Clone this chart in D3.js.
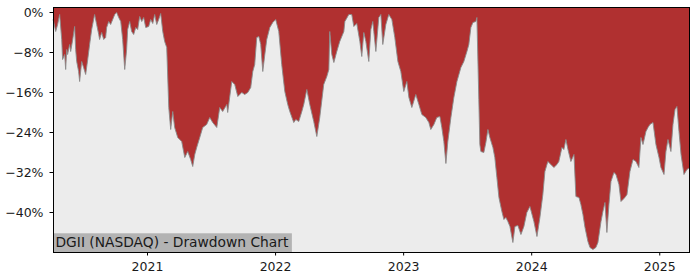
<!DOCTYPE html>
<html>
<head>
<meta charset="utf-8">
<script src="https://cdn.jsdelivr.net/npm/d3@7"></script>
<style>
  body { margin: 0; background: #fff; }
  text { font-family: "DejaVu Sans", sans-serif; }
</style>
</head>
<body>
<script>
// dates as decimal years, drawdown in percent
var years = [
  2020.266, 2020.271, 2020.287, 2020.302, 2020.318, 2020.334, 2020.341, 2020.357, 2020.365, 2020.373,
  2020.380, 2020.396, 2020.404, 2020.420, 2020.435, 2020.443, 2020.451, 2020.466, 2020.474, 2020.490,
  2020.505, 2020.521, 2020.537, 2020.552, 2020.568, 2020.591, 2020.607, 2020.623, 2020.630, 2020.646,
  2020.662, 2020.677, 2020.685, 2020.701, 2020.716, 2020.732, 2020.748, 2020.763, 2020.779, 2020.795,
  2020.810, 2020.826, 2020.841, 2020.849, 2020.865, 2020.880, 2020.896, 2020.912, 2020.927, 2020.943,
  2020.959, 2020.974, 2020.990, 2021.013, 2021.029, 2021.045, 2021.060, 2021.076, 2021.091, 2021.107,
  2021.123, 2021.138, 2021.154, 2021.170, 2021.185, 2021.201, 2021.216, 2021.240, 2021.271, 2021.295,
  2021.318, 2021.341, 2021.357, 2021.373, 2021.388, 2021.412, 2021.435, 2021.466, 2021.490, 2021.513,
  2021.545, 2021.568, 2021.591, 2021.623, 2021.630, 2021.662, 2021.685, 2021.709, 2021.740, 2021.763,
  2021.787, 2021.810, 2021.826, 2021.841, 2021.857, 2021.873, 2021.888, 2021.904, 2021.920, 2021.935,
  2021.959, 2021.982, 2022.005, 2022.029, 2022.052, 2022.076, 2022.099, 2022.115, 2022.146, 2022.162,
  2022.185, 2022.209, 2022.224, 2022.248, 2022.271, 2022.302, 2022.326, 2022.349, 2022.380, 2022.404,
  2022.420, 2022.427, 2022.443, 2022.459, 2022.482, 2022.505, 2022.537, 2022.545, 2022.576, 2022.599,
  2022.615, 2022.638, 2022.662, 2022.677, 2022.693, 2022.709, 2022.732, 2022.748, 2022.763, 2022.771,
  2022.787, 2022.810, 2022.826, 2022.841, 2022.865, 2022.888, 2022.912, 2022.935, 2022.959, 2022.982,
  2023.005, 2023.029, 2023.045, 2023.068, 2023.099, 2023.123, 2023.146, 2023.177, 2023.201, 2023.216,
  2023.240, 2023.263, 2023.287, 2023.302, 2023.318, 2023.334, 2023.349, 2023.373, 2023.396, 2023.420,
  2023.451, 2023.474, 2023.498, 2023.513, 2023.529, 2023.545, 2023.568, 2023.576, 2023.591, 2023.599,
  2023.607, 2023.630, 2023.646, 2023.662, 2023.677, 2023.701, 2023.716, 2023.732, 2023.748, 2023.771,
  2023.787, 2023.802, 2023.818, 2023.834, 2023.857, 2023.873, 2023.896, 2023.920, 2023.943, 2023.966,
  2023.990, 2024.021, 2024.045, 2024.068, 2024.091, 2024.107, 2024.130, 2024.154, 2024.177, 2024.201,
  2024.216, 2024.240, 2024.255, 2024.271, 2024.287, 2024.310, 2024.334, 2024.349, 2024.373, 2024.388,
  2024.404, 2024.420, 2024.443, 2024.459, 2024.482, 2024.505, 2024.521, 2024.545, 2024.560, 2024.576,
  2024.591, 2024.607, 2024.623, 2024.646, 2024.662, 2024.685, 2024.701, 2024.716, 2024.732, 2024.748,
  2024.771, 2024.795, 2024.818, 2024.841, 2024.857, 2024.873, 2024.896, 2024.912, 2024.927, 2024.951,
  2024.974, 2024.998, 2025.013, 2025.037, 2025.052, 2025.068, 2025.091, 2025.107, 2025.123, 2025.138,
  2025.154, 2025.170, 2025.193, 2025.216, 2025.240
];
var drawdown = [
  -1.5, -1.9, -3.9, -2.5, -0.5, -5.5, -9.5, -8.5, -11.5, -7.5,
  -8.5, -6.5, -7.9, -5.5, -2.9, -7.5, -9.9, -11.9, -13.9, -9.9,
  -11.1, -12.5, -9.5, -6.5, -3.5, -0.5, -2.5, -4.5, -5.5, -4.1,
  -5.5, -5.1, -3.1, -1.9, -2.5, -1.5, -0.5, -0.1, -1.1, -1.9,
  -5.5, -11.5, -7.5, -3.5, -1.9, -3.9, -4.5, -3.1, -3.5, -0.9,
  -1.9, -1.1, -3.1, -2.9, -1.5, -2.3, -0.5, -2.5, -1.5, -0.3,
  -3.9, -5.9, -7.1, -19.1, -23.5, -19.9, -23.1, -25.1, -25.9, -29.1,
  -27.9, -29.5, -30.9, -28.5, -27.1, -25.1, -23.1, -22.5, -21.1, -22.1,
  -23.1, -19.1, -19.9, -18.5, -20.1, -13.9, -14.5, -16.9, -16.1, -16.5,
  -16.1, -15.1, -11.9, -10.5, -5.1, -4.9, -6.5, -11.9, -8.5, -5.5,
  -3.1, -2.1, -1.5, -3.9, -10.5, -15.9, -18.5, -19.9, -22.1, -21.5,
  -21.9, -19.9, -18.5, -15.5, -18.5, -21.9, -24.9, -21.1, -14.5, -12.9,
  -11.5, -3.9, -8.5, -10.1, -7.9, -5.9, -3.9, -1.9, -0.5, -0.5,
  -2.9, -2.3, -5.9, -8.9, -4.1, -5.9, -9.9, -3.5, -1.9, -3.9,
  -7.9, -1.1, -0.5, -6.5, -2.5, -0.5, -1.5, -5.1, -9.9, -11.9,
  -15.9, -13.9, -17.1, -19.1, -16.5, -18.5, -20.5, -21.1, -22.1, -23.5,
  -22.5, -21.1, -20.9, -23.1, -25.9, -30.3, -25.9, -21.1, -17.1, -13.9,
  -11.1, -9.9, -7.9, -6.5, -3.1, -2.1, -1.9, -1.1, -17.5, -26.5,
  -27.9, -28.1, -26.1, -23.5, -25.1, -27.1, -29.1, -33.1, -37.1, -39.9,
  -41.5, -41.1, -41.9, -42.9, -46.1, -42.9, -42.7, -44.5, -42.9, -40.1,
  -38.9, -41.9, -44.9, -41.1, -36.5, -31.9, -29.9, -30.5, -31.1, -30.5,
  -29.9, -27.1, -27.5, -25.5, -27.5, -29.9, -28.5, -36.9, -37.1, -38.5,
  -40.5, -43.1, -45.9, -47.1, -47.5, -47.1, -46.1, -41.9, -39.9, -38.1,
  -44.1, -38.5, -33.9, -32.1, -32.5, -34.5, -37.9, -37.5, -37.1, -36.5,
  -31.9, -29.5, -29.9, -31.1, -25.1, -26.5, -23.9, -23.1, -22.5, -22.1,
  -26.5, -29.1, -31.1, -32.5, -27.9, -25.5, -27.9, -22.5, -19.5, -18.9,
  -23.9, -28.5, -32.5, -31.5, -31.1
];
var yearTicks = [2021, 2022, 2023, 2024, 2025];
var pctTicks = [0, -8, -16, -24, -32, -40];
var title = "DGII (NASDAQ) - Drawdown Chart";

var w = 700, h = 280;
var padL = 53, padR = 690, padT = 7, padB = 252;

var data = years.map(function(d, i) { return { t: d, v: drawdown[i] }; });

var svg = d3.select("body").append("svg")
  .attr("width", w)
  .attr("height", h);

var x = d3.scaleLinear().domain([2020.266, 2025.240]).range([padL, padR]);
var y = d3.scaleLinear().domain([-48, 1]).range([padB, padT]);

// plot background
svg.append("rect")
  .attr("x", padL).attr("y", padT)
  .attr("width", padR - padL).attr("height", padB - padT)
  .attr("fill", "#ececec");

// red fill from the top of the plot down to the drawdown curve
var area = d3.area()
  .x(function(d) { return x(d.t); })
  .y0(y(1))
  .y1(function(d) { return y(d.v); });

svg.append("path")
  .datum(data)
  .attr("d", area)
  .attr("fill", "#b03030");

var line = d3.line()
  .x(function(d) { return x(d.t); })
  .y(function(d) { return y(d.v); });

svg.append("path")
  .datum(data)
  .attr("d", line)
  .attr("fill", "none")
  .attr("stroke", "#8a8a8a")
  .attr("stroke-width", 0.9);

// title box in the lower left corner
var label = svg.append("g");
var lt = label.append("text")
  .attr("x", padL + 2.5)
  .attr("y", 247)
  .attr("font-size", "13.8px")
  .attr("fill", "#1a1a1a")
  .text(title);
var tw = lt.node().getComputedTextLength();
label.insert("rect", "text")
  .attr("x", padL)
  .attr("y", 233.3)
  .attr("width", tw + 6)
  .attr("height", padB - 233.3)
  .attr("fill", "#b3b3b3");

// axes
var xAxis = d3.axisBottom(x)
  .tickValues(yearTicks)
  .tickFormat(d3.format("d"))
  .tickSize(3.5)
  .tickSizeOuter(0)
  .tickPadding(7);

var yAxis = d3.axisLeft(y)
  .tickValues(pctTicks)
  .tickFormat(function(d) { return d3.format("d")(d) + "%"; })
  .tickSize(3.5)
  .tickSizeOuter(0)
  .tickPadding(6);

var gx = svg.append("g")
  .attr("transform", "translate(0," + padB + ")")
  .call(xAxis);
var gy = svg.append("g")
  .attr("transform", "translate(" + padL + ",0)")
  .call(yAxis);

[gx, gy].forEach(function(g) {
  g.select(".domain").remove();
  g.selectAll("text")
    .attr("font-family", "DejaVu Sans, sans-serif")
    .attr("font-size", "12.5px")
    .attr("fill", "#1a1a1a");
  g.selectAll("line").attr("stroke", "#000");
});

// frame
svg.append("rect")
  .attr("x", padL + 0.5).attr("y", padT + 0.5)
  .attr("width", padR - padL - 1).attr("height", padB - padT)
  .attr("fill", "none")
  .attr("stroke", "#000")
  .attr("stroke-width", 1);
</script>
</body>
</html>
